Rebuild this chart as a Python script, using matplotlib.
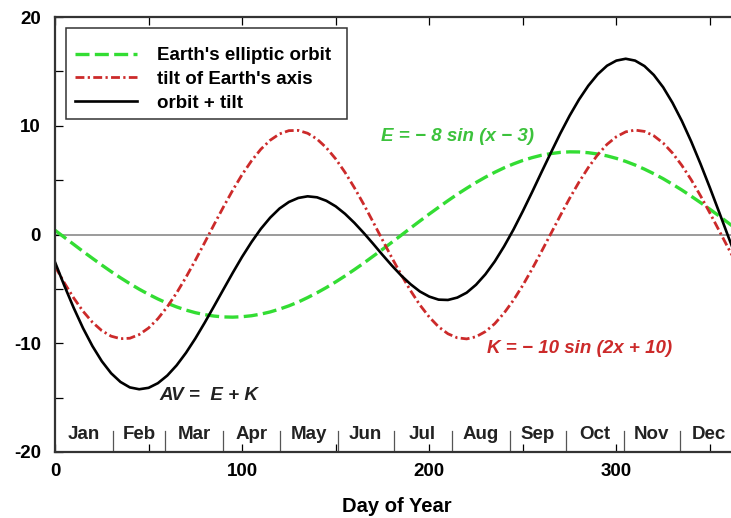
import numpy as np
import matplotlib
matplotlib.use("Agg")
import matplotlib.pyplot as plt
import matplotlib.ticker as ticker
from matplotlib.patches import Rectangle

plt.rcParams["font.family"] = ["Liberation Sans", "DejaVu Sans"]
plt.rcParams["axes.unicode_minus"] = False

# values, every 5 days
days = [0, 5, 10, 15, 20, 25, 30, 35, 40, 45, 50, 55, 60, 65, 70, 75, 80, 85, 90, 95,
        100, 105, 110, 115, 120, 125, 130, 135, 140, 145, 150, 155, 160, 165, 170, 175,
        180, 185, 190, 195, 200, 205, 210, 215, 220, 225, 230, 235, 240, 245, 250, 255,
        260, 265, 270, 275, 280, 285, 290, 295, 300, 305, 310, 315, 320, 325, 330, 335,
        340, 345, 350, 355, 360, 365]
orbit = [0.39, -0.26, -0.91, -1.56, -2.19, -2.81, -3.41, -3.98, -4.52, -5.03, -5.50, -5.93,
         -6.32, -6.66, -6.95, -7.19, -7.37, -7.50, -7.58, -7.60, -7.56, -7.47, -7.32, -7.12,
         -6.86, -6.56, -6.21, -5.80, -5.36, -4.88, -4.36, -3.81, -3.23, -2.63, -2.00, -1.37,
         -0.72, -0.07, 0.59, 1.24, 1.88, 2.50, 3.11, 3.70, 4.25, 4.78, 5.27, 5.72, 6.13,
         6.49, 6.81, 7.07, 7.29, 7.44, 7.55, 7.60, 7.59, 7.52, 7.40, 7.23, 7.00, 6.72, 6.39,
         6.01, 5.59, 5.13, 4.62, 4.09, 3.52, 2.93, 2.32, 1.69, 1.04, 0.39]
tilt = [-2.93, -4.45, -5.84, -7.06, -8.07, -8.84, -9.35, -9.58, -9.54, -9.20, -8.60, -7.74,
        -6.65, -5.37, -3.93, -2.37, -0.74, 0.91, 2.53, 4.08, 5.51, 6.77, 7.84, 8.67, 9.25,
        9.55, 9.57, 9.31, 8.78, 7.98, 6.95, 5.71, 4.30, 2.77, 1.15, -0.50, -2.13, -3.70,
        -5.16, -6.48, -7.59, -8.49, -9.13, -9.50, -9.60, -9.40, -8.93, -8.20, -7.22, -6.04,
        -4.67, -3.16, -1.56, 0.08, 1.73, 3.32, 4.81, 6.16, 7.33, 8.29, 8.99, 9.44, 9.60,
        9.48, 9.08, 8.41, 7.49, 6.35, 5.03, 3.55, 1.97, 0.33, -1.32, -2.93]
total = [-2.54, -4.71, -6.75, -8.62, -10.26, -11.65, -12.76, -13.56, -14.06, -14.23, -14.10,
         -13.67, -12.97, -12.03, -10.88, -9.56, -8.11, -6.59, -5.05, -3.52, -2.05, -0.70,
         0.52, 1.55, 2.39, 2.99, 3.36, 3.51, 3.42, 3.10, 2.59, 1.90, 1.07, 0.14, -0.85,
         -1.87, -2.85, -3.77, -4.57, -5.24, -5.71, -5.99, -6.02, -5.80, -5.35, -4.62, -3.66,
         -2.48, -1.09, 0.45, 2.14, 3.91, 5.73, 7.52, 9.28, 10.92, 12.40, 13.68, 14.73, 15.52,
         15.99, 16.16, 15.99, 15.49, 14.67, 13.54, 12.11, 10.44, 8.55, 6.48, 4.29, 2.02,
         -0.28, -2.54]

months = ["Jan", "Feb", "Mar", "Apr", "May", "Jun", "Jul", "Aug", "Sep", "Oct", "Nov", "Dec"]
month_len = [31, 28, 31, 30, 31, 30, 31, 31, 30, 31, 30, 31]

GREEN = "#33dd33"
RED = "#cc2a2a"
W, H = 731, 518

fig = plt.figure(figsize=(7.31, 5.18), dpi=100)
ax = fig.add_axes([55 / W, 1 - 452 / H, 683 / W, 435 / H])

ax.axhline(0, color="#808080", lw=1.1, zorder=1)
ax.plot(days, orbit, color=GREEN, lw=2.4, dashes=(4.2, 1.6), label="Earth's elliptic orbit")
ax.plot(days, tilt, color=RED, lw=2.0, dashes=(3.2, 1.2, 0.8, 1.2), label="tilt of Earth's axis")
ax.plot(days, total, color="black", lw=1.9, label="orbit + tilt")

# month strip along the bottom
edges = np.cumsum([0] + month_len)
for i, m in enumerate(months):
    mid = (edges[i] + edges[i + 1]) / 2
    ax.text(mid, -18.4, m, ha="center", va="center", fontsize=13.5, fontweight="bold",
            color="#222222")
    if i > 0:
        ax.plot([edges[i], edges[i]], [-20, -18.1], color="#555555", lw=0.9)

ax.text(174, 9.0, "E = \u2212 8 sin (x \u2212 3)", color="#3cc23c", fontsize=13.5,
        fontweight="bold", style="italic", va="center")
ax.text(231, -10.5, "K = \u2212 10 sin (2x + 10)", color=RED, fontsize=13.5,
        fontweight="bold", style="italic", va="center")
ax.text(56, -14.8, "AV =  E + K", color="#222222", fontsize=13.5,
        fontweight="bold", style="italic", va="center")

ax.set_xlim(0, 365)
ax.set_ylim(-20, 20)
ax.xaxis.set_major_locator(ticker.MultipleLocator(100))
ax.xaxis.set_minor_locator(ticker.MultipleLocator(50))
ax.yaxis.set_major_locator(ticker.MultipleLocator(10))
ax.yaxis.set_minor_locator(ticker.MultipleLocator(5))
ax.tick_params(which="both", direction="in", top=True, right=False, length=6, width=0.9,
               labelsize=13.5)
for lbl in ax.get_xticklabels() + ax.get_yticklabels():
    lbl.set_fontweight("bold")
ax.tick_params(axis="x", pad=8)
ax.tick_params(axis="y", pad=10)
for s in ax.spines.values():
    s.set_linewidth(1.6)
    s.set_color("#333333")
ax.spines["right"].set_visible(False)
ax.set_xlabel("Day of Year", fontsize=14.5, fontweight="bold", labelpad=12)

# legend box drawn on its own, entries placed inside it
ax.add_patch(Rectangle((66 / W, 1 - 119 / H), 281 / W, 91 / H,
                       transform=fig.transFigure, facecolor="white",
                       edgecolor="#333333", lw=1.1, zorder=4, clip_on=False))
leg = ax.legend(loc="upper left", bbox_to_anchor=(75 / W, 1 - 47 / H),
                bbox_transform=fig.transFigure, borderaxespad=0, borderpad=0,
                frameon=False, fontsize=13.5, handlelength=3.3, handletextpad=1.05,
                labelspacing=0.36)
leg.set_zorder(6)
for t in leg.get_texts():
    t.set_fontweight("bold")

fig.savefig("out.png", dpi=100)
